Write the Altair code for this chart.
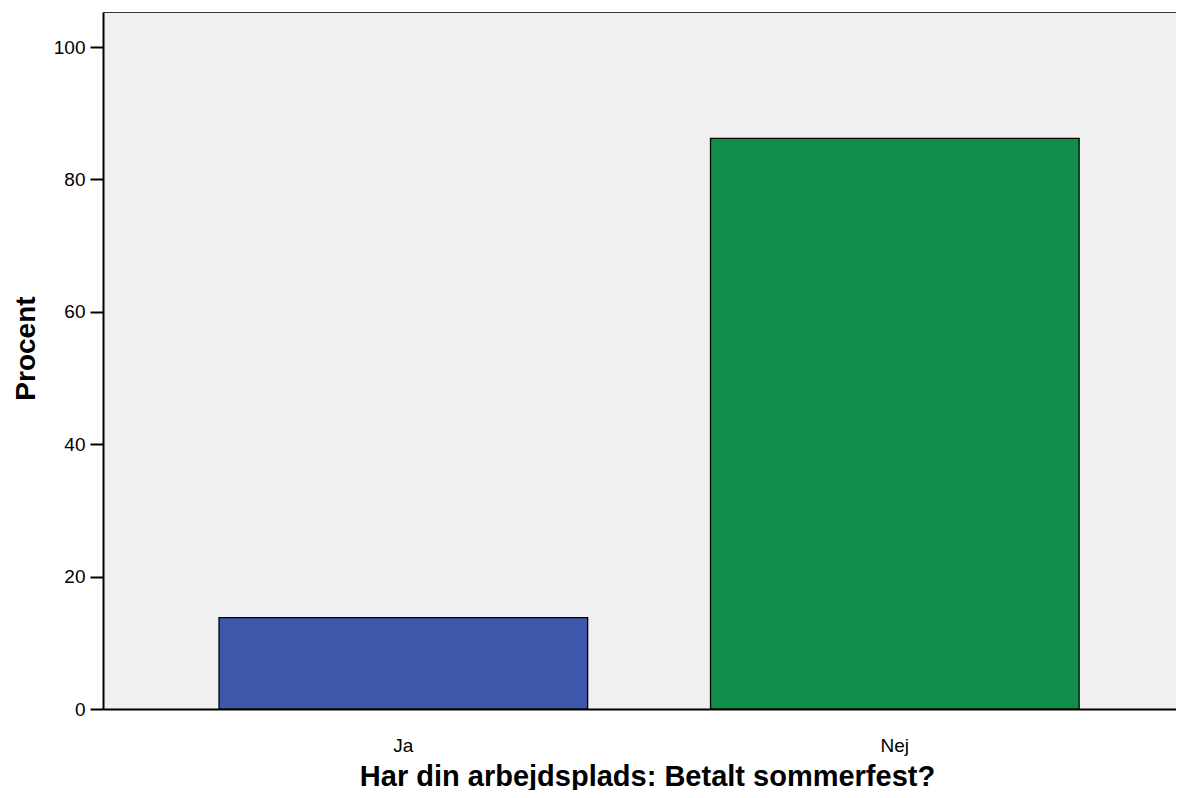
import altair as alt
import pandas as pd

categories = ["Ja", "Nej"]
percent = [13.8, 86.2]
colors = ["#3d58ab", "#128e4a"]

df = pd.DataFrame({"svar": categories, "procent": percent})

bars = alt.Chart(df).mark_bar(stroke="black", strokeWidth=1.3).encode(
    x=alt.X(
        "svar:N",
        sort=categories,
        scale=alt.Scale(paddingInner=0.25, paddingOuter=0.2166, align=0.545),
        axis=alt.Axis(
            title="Har din arbejdsplads: Betalt sommerfest?",
            labelAngle=0,
            ticks=False,
            labelPadding=27,
            labelFont="Liberation Sans",
            labelFontSize=19,
            labelColor="black",
            titleFont="Liberation Sans",
            titleFontSize=29,
            titleFontWeight="bold",
            titleColor="black",
            titleBaseline="alphabetic",
            titleAlign="center",
            titleX=544,
            titleY=76,
            domainColor="black",
            domainWidth=2,
            grid=False,
        ),
    ),
    y=alt.Y(
        "procent:Q",
        scale=alt.Scale(domain=[0, 105.3], nice=False, zero=True),
        axis=alt.Axis(
            title="Procent",
            values=[0, 20, 40, 60, 80, 100],
            tickSize=13,
            tickWidth=2,
            tickColor="black",
            labelPadding=5,
            labelFont="Liberation Sans",
            labelFontSize=19,
            labelColor="black",
            titleFont="Liberation Sans",
            titleFontSize=28,
            titleFontWeight="bold",
            titleColor="black",
            titleBaseline="alphabetic",
            titleAlign="center",
            titleX=-69,
            titleY=336,
            domainColor="black",
            domainWidth=2,
            grid=False,
        ),
    ),
    color=alt.Color("svar:N", scale=alt.Scale(domain=categories, range=colors), legend=None),
)

chart = bars.properties(
    width=1073,
    height=697,
    autosize=alt.AutoSizeParams(type="none"),
    padding={"left": 95, "top": 4, "right": 0, "bottom": 81},
    background="white",
).configure_view(
    fill="#f0f0f0",
    stroke="#333333",
    strokeWidth=1,
)

chart.save("out.html", embed_options={"renderer": "svg", "actions": False})
